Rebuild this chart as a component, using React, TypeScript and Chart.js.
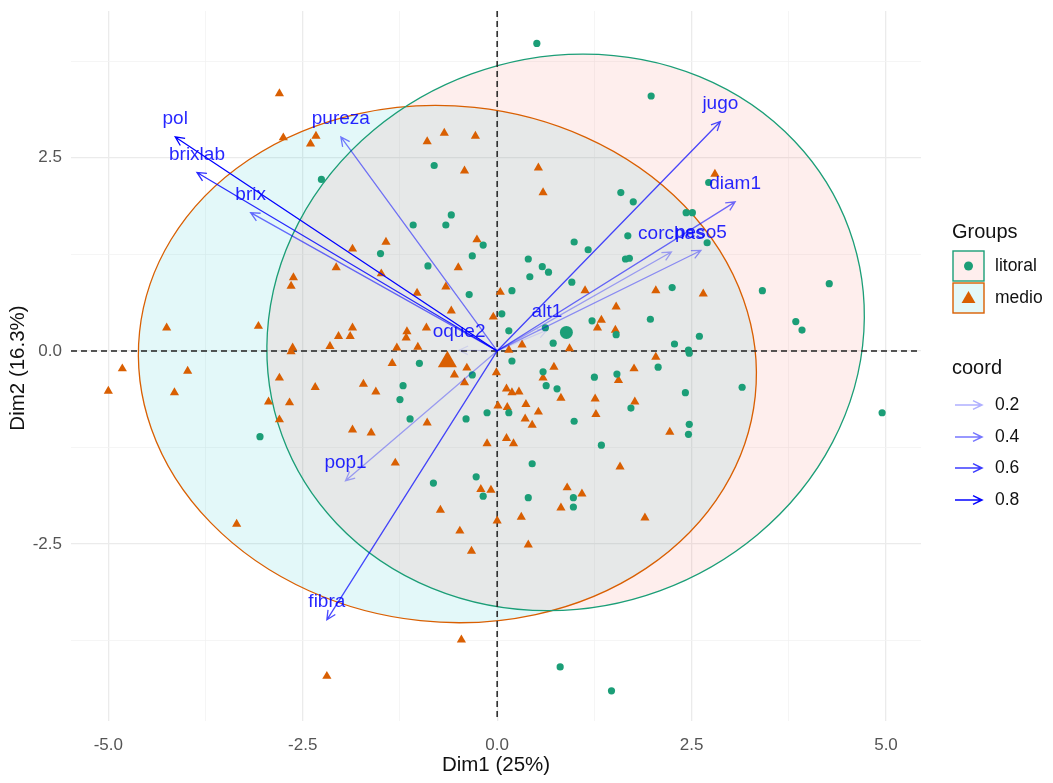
import React, { useEffect, useRef } from "react";
import { Chart, registerables } from "chart.js";
Chart.register(...registerables);

// ---------- data ----------
const litoralX = [0.51,-0.81,1.59,1.75,-0.59,-1.08,-0.66,-0.18,-1.50,-0.32,-0.89,0.99,1.17,1.68,1.65,1.70,0.40,0.58,1.98,2.72,2.43,2.51,2.70,-2.26,-3.05,-0.36,0.19,0.06,0.15,0.66,0.42,0.96,1.22,1.53,0.62,0.72,-1.00,-0.32,0.19,-1.21,-1.25,0.15,-0.13,0.59,0.63,0.77,1.25,1.54,1.72,0.99,-1.12,-0.40,2.25,3.41,4.27,3.84,3.92,1.97,2.60,2.28,2.46,2.47,2.07,3.15,2.42,4.95,2.47,2.46,1.34,0.45,-0.82,-0.27,-0.18,0.40,0.98,0.98,0.81,1.47];
const litoralY = [3.98,2.40,2.05,1.93,1.76,1.63,1.63,1.37,1.26,1.23,1.10,1.41,1.31,1.49,1.19,1.20,1.19,1.09,3.30,2.18,1.79,1.79,1.40,2.22,-1.11,0.73,0.78,0.48,0.26,1.02,0.96,0.89,0.39,0.21,0.30,0.10,-0.16,-0.31,-0.13,-0.45,-0.63,-0.80,-0.80,-0.27,-0.45,-0.49,-0.34,-0.30,-0.74,-0.91,-0.88,-0.88,0.82,0.78,0.87,0.38,0.27,0.41,0.19,0.09,0.01,-0.03,-0.21,-0.47,-0.54,-0.80,-0.95,-1.08,-1.22,-1.46,-1.71,-1.63,-1.88,-1.90,-1.90,-2.02,-4.09,-4.40];

const medioX = [-2.80,-2.75,-2.33,-2.40,-1.86,-2.07,-0.68,-0.28,-0.90,-0.42,0.53,0.59,-1.43,-0.26,-0.50,2.80,-2.62,-2.65,-4.25,-3.07,-1.86,-2.04,-1.89,-2.63,-2.65,-2.15,-4.82,-3.98,-5.00,-4.15,-2.80,-2.34,-2.94,-2.67,-2.80,-1.86,-1.49,-0.66,-1.03,0.04,-0.59,-0.05,-0.91,-1.16,-1.17,-1.02,-1.29,1.13,1.53,1.34,1.29,1.52,0.32,0.15,0.93,-1.35,-0.55,-0.39,-0.42,-0.01,-1.72,-1.56,0.12,0.19,0.28,0.13,0.01,0.37,0.53,0.36,0.45,0.73,0.59,0.82,1.56,1.76,1.26,1.27,1.77,-0.90,2.04,2.65,2.04,2.22,-1.62,-1.31,-0.13,0.12,0.21,1.58,-0.21,-0.08,0.90,1.09,0.82,0.31,-0.73,0.00,-0.48,-0.33,0.40,-0.46,-3.35,-2.19,1.90];
const medioY = [3.33,2.76,2.78,2.68,1.32,1.08,2.82,2.78,2.71,2.33,2.37,2.05,1.41,1.44,1.08,2.29,0.95,0.84,0.30,0.32,0.30,0.19,0.19,0.04,-0.01,0.06,-0.23,-0.26,-0.52,-0.54,-0.35,-0.47,-0.66,-0.67,-0.89,-1.02,1.00,0.83,0.75,0.76,0.52,0.44,0.30,0.25,0.17,0.05,0.04,0.78,0.57,0.40,0.30,0.27,0.08,0.01,0.03,-0.16,-0.31,-0.22,-0.41,-0.28,-0.43,-0.53,-0.49,-0.54,-0.53,-0.73,-0.71,-0.69,-0.79,-0.88,-0.96,-0.21,-0.35,-0.61,-0.38,-0.23,-0.62,-0.82,-0.66,-0.93,0.78,0.74,-0.08,-1.05,-1.06,-1.45,-1.20,-1.13,-1.20,-1.50,-1.79,-1.80,-1.77,-1.85,-2.03,-2.15,-2.06,-2.20,-2.33,-2.59,-2.51,-3.74,-2.24,-4.21,-2.16];

const groupNames = ["litoral", "medio"];
const groupColors = ["#1B9E77", "#D95F02"];
const groupFills = ["rgba(248,118,109,0.12)", "rgba(0,191,196,0.11)"];
const groupMeanX = [0.89, -0.64];
const groupMeanY = [0.24, -0.14];

const ellipseCX = [0.88, -0.64];
const ellipseCY = [0.24, -0.17];
const ellipseA = [3.88, 3.98];
const ellipseB = [3.56, 3.34];
const ellipseAngle = [20, -6];

const varNames = ["pol", "brixlab", "brix", "pureza", "jugo", "diam1", "corchas", "peso5", "alt1", "oque2", "pop1", "fibra"];
const varX = [-4.14, -3.86, -3.17, -2.01, 2.87, 3.06, 2.24, 2.62, 0.64, -0.49, -1.95, -2.19];
const varY = [2.77, 2.31, 1.79, 2.77, 2.97, 1.93, 1.28, 1.30, 0.27, 0.01, -1.68, -3.48];
const varCoord = [0.81, 0.66, 0.43, 0.38, 0.55, 0.43, 0.22, 0.28, 0.02, 0.01, 0.22, 0.55];

const xTicks = [-5, -3.75, -2.5, -1.25, 0, 1.25, 2.5, 3.75, 5];
const yTicks = [-3.75, -2.5, -1.25, 0, 1.25, 2.5, 3.75];
const majorTicks = [-5, -2.5, 0, 2.5, 5];
const coordLegend = [0.2, 0.4, 0.6, 0.8];

const xTitle = "Dim1 (25%)";
const yTitle = "Dim2 (16.3%)";

const FONT = "'Liberation Sans', Arial, sans-serif";

const cMin = Math.min(...varCoord);
const cMax = Math.max(...varCoord);
const alphaFor = (c: number) => 0.1 + 0.9 * (c - cMin) / (cMax - cMin);
const isMajor = (v: number) => majorTicks.some((m) => Math.abs(m - v) < 1e-9);

function drawArrow(ctx: CanvasRenderingContext2D, x0: number, y0: number, x1: number, y1: number, color: string, lw: number) {
  const ang = Math.atan2(y1 - y0, x1 - x0);
  const L = 10;
  const hA = Math.PI / 7;
  ctx.strokeStyle = color;
  ctx.lineWidth = lw;
  ctx.beginPath();
  ctx.moveTo(x0, y0);
  ctx.lineTo(x1, y1);
  ctx.moveTo(x1 - L * Math.cos(ang - hA), y1 - L * Math.sin(ang - hA));
  ctx.lineTo(x1, y1);
  ctx.lineTo(x1 - L * Math.cos(ang + hA), y1 - L * Math.sin(ang + hA));
  ctx.stroke();
}

function drawTriangle(ctx: CanvasRenderingContext2D, cx: number, cy: number, r: number, color: string) {
  ctx.fillStyle = color;
  ctx.beginPath();
  ctx.moveTo(cx, cy - r);
  ctx.lineTo(cx + r * Math.sin(Math.PI / 3), cy + r * 0.5);
  ctx.lineTo(cx - r * Math.sin(Math.PI / 3), cy + r * 0.5);
  ctx.closePath();
  ctx.fill();
}

const biplotPlugin = {
  id: "biplot",
  beforeDatasetsDraw(chart: any) {
    const { ctx, chartArea, scales } = chart;
    const xs = scales.x, ys = scales.y;
    ctx.save();
    ctx.beginPath();
    ctx.rect(chartArea.left, chartArea.top, chartArea.right - chartArea.left, chartArea.bottom - chartArea.top);
    ctx.clip();
    const paths: Path2D[] = [];
    for (let i = 0; i < groupNames.length; i++) {
      const px = xs.getPixelForValue(ellipseCX[i]);
      const py = ys.getPixelForValue(ellipseCY[i]);
      const rx = Math.abs(xs.getPixelForValue(ellipseCX[i] + ellipseA[i]) - px);
      const ry = Math.abs(ys.getPixelForValue(ellipseCY[i] + ellipseB[i]) - py);
      const p = new Path2D();
      p.ellipse(px, py, rx, ry, -ellipseAngle[i] * Math.PI / 180, 0, Math.PI * 2);
      paths.push(p);
    }
    for (let i = paths.length - 1; i >= 0; i--) {
      ctx.fillStyle = groupFills[i];
      ctx.fill(paths[i]);
    }
    for (let i = paths.length - 1; i >= 0; i--) {
      ctx.strokeStyle = groupColors[i];
      ctx.lineWidth = 1.3;
      ctx.stroke(paths[i]);
    }
    ctx.strokeStyle = "#222";
    ctx.lineWidth = 1.5;
    ctx.setLineDash([6, 4]);
    const x0 = xs.getPixelForValue(0), y0 = ys.getPixelForValue(0);
    ctx.beginPath();
    ctx.moveTo(x0, chartArea.top);
    ctx.lineTo(x0, chartArea.bottom);
    ctx.moveTo(chartArea.left, y0);
    ctx.lineTo(chartArea.right, y0);
    ctx.stroke();
    ctx.setLineDash([]);
    ctx.restore();
  },
  afterDatasetsDraw(chart: any) {
    const { ctx, scales } = chart;
    const xs = scales.x, ys = scales.y;
    const ox = xs.getPixelForValue(0), oy = ys.getPixelForValue(0);
    ctx.save();
    for (let i = 0; i < varNames.length; i++) {
      const tx = xs.getPixelForValue(varX[i]);
      const ty = ys.getPixelForValue(varY[i]);
      drawArrow(ctx, ox, oy, tx, ty, `rgba(0,0,255,${alphaFor(varCoord[i]).toFixed(3)})`, 1.3);
    }
    ctx.font = `19px ${FONT}`;
    ctx.textAlign = "center";
    ctx.textBaseline = "middle";
    ctx.fillStyle = "rgba(0,0,255,0.85)";
    for (let i = 0; i < varNames.length; i++) {
      const tx = xs.getPixelForValue(varX[i]);
      const ty = ys.getPixelForValue(varY[i]);
      ctx.fillText(varNames[i], tx, ty - 18);
    }
    ctx.restore();
  },
  afterDraw(chart: any) {
    const { ctx, chartArea, scales } = chart;
    ctx.save();
    // y tick labels (through the y scale)
    ctx.fillStyle = "#555";
    ctx.font = `17px ${FONT}`;
    ctx.textAlign = "right";
    ctx.textBaseline = "middle";
    for (const v of yTicks) {
      if (!isMajor(v)) continue;
      ctx.fillText(v.toFixed(1), chartArea.left - 9, scales.y.getPixelForValue(v));
    }
    // axis titles
    ctx.fillStyle = "#111";
    ctx.font = `20.5px ${FONT}`;
    ctx.textAlign = "center";
    ctx.fillText(xTitle, (chartArea.left + chartArea.right) / 2, 765);
    ctx.save();
    ctx.translate(18, 368);
    ctx.rotate(-Math.PI / 2);
    ctx.fillText(yTitle, 0, 0);
    ctx.restore();

    // legend: Groups
    const lx = 953;
    ctx.textAlign = "left";
    ctx.font = `20px ${FONT}`;
    ctx.fillStyle = "#111";
    ctx.fillText("Groups", lx - 1, 232);
    const keyY = [251, 283];
    for (let i = 0; i < groupNames.length; i++) {
      ctx.fillStyle = "#fff";
      ctx.fillRect(lx, keyY[i], 31, 30);
      ctx.fillStyle = groupFills[i];
      ctx.fillRect(lx, keyY[i], 31, 30);
      ctx.strokeStyle = groupColors[i];
      ctx.lineWidth = 1.4;
      ctx.strokeRect(lx, keyY[i], 31, 30);
      const cx = lx + 15.5, cy = keyY[i] + 15;
      if (i === 0) {
        ctx.fillStyle = groupColors[i];
        ctx.beginPath();
        ctx.arc(cx, cy, 4.5, 0, Math.PI * 2);
        ctx.fill();
      } else {
        drawTriangle(ctx, cx, cy + 1, 8, groupColors[i]);
      }
      ctx.fillStyle = "#111";
      ctx.font = `17.5px ${FONT}`;
      ctx.fillText(groupNames[i], 995, cy);
    }
    // legend: coord
    ctx.font = `20px ${FONT}`;
    ctx.fillStyle = "#111";
    ctx.fillText("coord", lx - 1, 368);
    const itemY = [405, 437, 468, 500];
    for (let i = 0; i < coordLegend.length; i++) {
      drawArrow(ctx, 955, itemY[i], 982, itemY[i], `rgba(0,0,255,${alphaFor(coordLegend[i]).toFixed(3)})`, 1.5);
      ctx.fillStyle = "#111";
      ctx.font = `17.5px ${FONT}`;
      ctx.fillText(coordLegend[i].toFixed(1), 995, itemY[i]);
    }
    ctx.restore();
  },
};

export default function App() {
  const ref = useRef<HTMLCanvasElement | null>(null);
  useEffect(() => {
    if (!ref.current) return;
    const mk = (xsArr: number[], ysArr: number[]) => xsArr.map((v, i) => ({ x: v, y: ysArr[i] }));
    const chart = new Chart(ref.current, {
      type: "scatter",
      data: {
        datasets: [
          { label: "litoral", data: mk(litoralX, litoralY), pointStyle: "circle", pointRadius: 3.6, backgroundColor: groupColors[0], borderWidth: 0 },
          { label: "medio", data: mk(medioX, medioY), pointStyle: "triangle", pointRadius: 5.3, backgroundColor: groupColors[1], borderWidth: 0 },
          { label: "litoral mean", data: [{ x: groupMeanX[0], y: groupMeanY[0] }], pointStyle: "circle", pointRadius: 6.5, backgroundColor: groupColors[0], borderWidth: 0 },
          { label: "medio mean", data: [{ x: groupMeanX[1], y: groupMeanY[1] }], pointStyle: "triangle", pointRadius: 11, backgroundColor: groupColors[1], borderWidth: 0 },
        ],
      },
      options: {
        animation: false,
        responsive: false,
        devicePixelRatio: 1,
        layout: { padding: { top: 11, right: 132, left: 0, bottom: 0 } },
        plugins: { legend: { display: false }, tooltip: { enabled: false } },
        scales: {
          x: {
            type: "linear",
            min: -5.48,
            max: 5.45,
            afterBuildTicks: (s: any) => { s.ticks = xTicks.map((v) => ({ value: v })); },
            afterFit: (s: any) => { s.height = 62; },
            border: { display: false },
            grid: {
              drawTicks: false,
              color: (c: any) => (c.tick && isMajor(c.tick.value) ? "#ebebeb" : "#f3f3f3"),
              lineWidth: (c: any) => (c.tick && isMajor(c.tick.value) ? 1.3 : 0.8),
            },
            ticks: {
              autoSkip: false, maxRotation: 0, padding: 14, color: "#555",
              font: { family: FONT, size: 17 },
              callback: (v: any) => (isMajor(Number(v)) ? Number(v).toFixed(1) : ""),
            },
          },
          y: {
            type: "linear",
            min: -4.79,
            max: 4.40,
            afterBuildTicks: (s: any) => { s.ticks = yTicks.map((v) => ({ value: v })); },
            afterFit: (s: any) => { s.width = 71; },
            border: { display: false },
            grid: {
              drawTicks: false,
              color: (c: any) => (c.tick && isMajor(c.tick.value) ? "#ebebeb" : "#f3f3f3"),
              lineWidth: (c: any) => (c.tick && isMajor(c.tick.value) ? 1.3 : 0.8),
            },
            ticks: { display: false },
          },
        },
      },
      plugins: [biplotPlugin],
    } as any);
    return () => chart.destroy();
  }, []);
  return (
    <div style={{ position: "absolute", left: 0, top: 0, width: 1053, height: 783, background: "#fff" }}>
      <canvas ref={ref} width={1053} height={783} style={{ width: 1053, height: 783, display: "block" }} />
    </div>
  );
}
